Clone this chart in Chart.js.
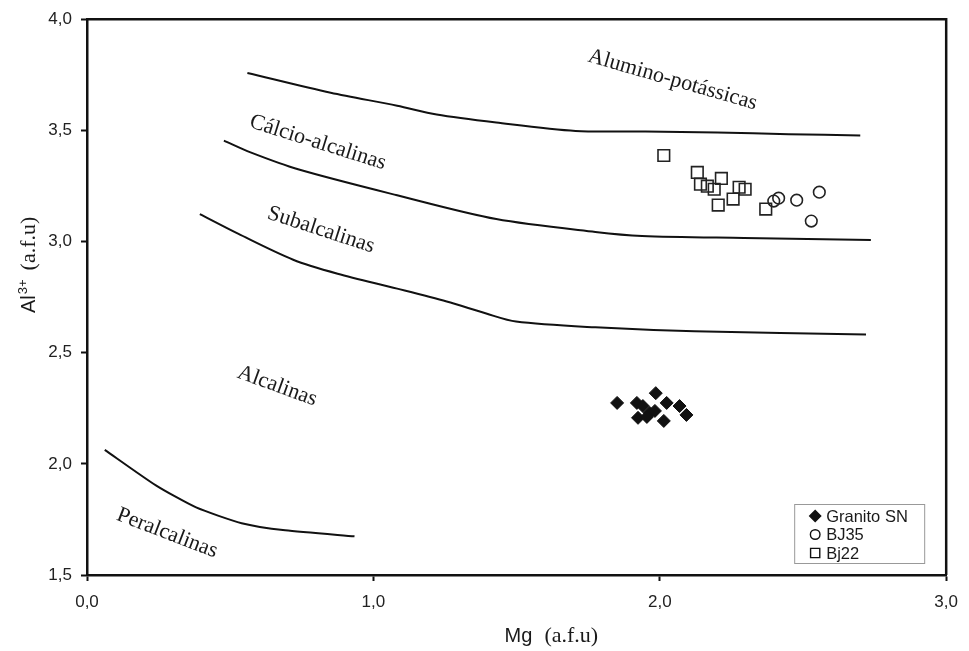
<!DOCTYPE html>
<html>
<head>
<meta charset="utf-8">
<script src="https://cdn.jsdelivr.net/npm/chart.js@4.4.1/dist/chart.umd.min.js"></script>
<style>
html,body{margin:0;padding:0;background:#fff;}
#wrap{width:969px;height:651px;position:relative;}
</style>
</head>
<body>
<div id="wrap"><canvas id="c" width="969" height="651"></canvas></div>
<script>
// ---- Boundary curves (Mg, Al) ----
const aluminoX = [0.56, 0.851, 1.083, 1.221, 1.429, 1.706, 1.95, 2.2, 2.45, 2.70];
const aluminoY = [3.758, 3.669, 3.611, 3.571, 3.535, 3.497, 3.495, 3.490, 3.483, 3.477];
const calcioX = [0.478, 0.571, 0.737, 1.083, 1.429, 1.775, 1.938, 2.294, 2.737];
const calcioY = [3.454, 3.401, 3.325, 3.208, 3.101, 3.043, 3.025, 3.016, 3.007];
const subalcX = [0.394, 0.529, 0.720, 0.875, 1.083, 1.256, 1.394, 1.498, 1.775, 2.121, 2.720];
const subalcY = [3.123, 3.034, 2.918, 2.855, 2.788, 2.730, 2.676, 2.640, 2.614, 2.596, 2.582];
const peralcX = [0.062, 0.242, 0.381, 0.540, 0.692, 0.934];
const peralcY = [2.063, 1.902, 1.804, 1.733, 1.701, 1.674];

// ---- Samples ----
const granitoMg = [1.851, 1.920, 1.941, 1.986, 2.024, 2.069, 2.093, 2.014, 1.924, 1.965, 1.955, 1.983];
const granitoAl = [2.274, 2.274, 2.260, 2.318, 2.274, 2.260, 2.220, 2.193, 2.207, 2.229, 2.211, 2.238];
const bj35Mg = [2.415, 2.398, 2.478, 2.557, 2.529];
const bj35Al = [3.195, 3.182, 3.186, 3.222, 3.092];
const bj22Mg = [2.014, 2.131, 2.142, 2.166, 2.190, 2.215, 2.204, 2.256, 2.277, 2.298, 2.370];
const bj22Al = [3.387, 3.311, 3.258, 3.249, 3.235, 3.284, 3.164, 3.191, 3.244, 3.235, 3.146];

// ---- Field labels ----
const fieldNames = ["Alumino-potássicas", "Cálcio-alcalinas", "Subalcalinas", "Alcalinas", "Peralcalinas"];
const fieldMg = [2.045, 0.806, 0.817, 0.664, 0.280];
const fieldAl = [3.727, 3.445, 3.052, 2.350, 1.688];
const fieldAngle = [16, 17.5, 18, 20, 21];

// ---- Axes ----
const xTicks = [0, 1, 2, 3];
const yTicks = [1.5, 2.0, 2.5, 3.0, 3.5, 4.0];
const legendNames = ["Granito SN", "BJ35", "Bj22"];

const pts = (xs, ys) => xs.map((x, i) => ({x: x, y: ys[i]}));
const fmt = v => Number(v).toFixed(1).replace('.', ',');

const lineDs = (xs, ys) => ({
  data: pts(xs, ys), showLine: true, pointRadius: 0, borderColor: '#111',
  borderWidth: 2, tension: 0.3, fill: false
});

const framePlugin = {
  id: 'frame',
  afterDraw(chart) {
    const ctx = chart.ctx, a = chart.chartArea, xs = chart.scales.x, ys = chart.scales.y;
    ctx.save();
    // frame top & right
    ctx.strokeStyle = '#111'; ctx.lineWidth = 2.5;
    ctx.beginPath();
    ctx.moveTo(a.left, a.top); ctx.lineTo(a.right, a.top); ctx.lineTo(a.right, a.bottom);
    ctx.stroke();
    // field labels
    ctx.fillStyle = '#1a1a1a';
    ctx.font = '22px "Liberation Serif", "Times New Roman", serif';
    ctx.textAlign = 'center'; ctx.textBaseline = 'middle';
    fieldNames.forEach((n, i) => {
      ctx.save();
      ctx.translate(xs.getPixelForValue(fieldMg[i]), ys.getPixelForValue(fieldAl[i]));
      ctx.rotate(fieldAngle[i] * Math.PI / 180);
      ctx.fillText(n, 0, 0);
      ctx.restore();
    });
    // x title
    ctx.textAlign = 'left'; ctx.textBaseline = 'alphabetic';
    const cx = (a.left + a.right) / 2;
    ctx.font = '20px "Liberation Sans", Arial, sans-serif';
    const mgW = ctx.measureText('Mg').width;
    ctx.fillText('Mg', cx - 12, a.bottom + 67);
    ctx.font = '22px "Liberation Serif", "Times New Roman", serif';
    ctx.fillText('(a.f.u)', cx - 12 + mgW + 12, a.bottom + 67);
    // y title
    ctx.save();
    ctx.translate(35, 313);
    ctx.rotate(-Math.PI / 2);
    ctx.font = '20px "Liberation Sans", Arial, sans-serif';
    ctx.fillText('Al', 0, 0);
    const alW = ctx.measureText('Al').width;
    ctx.font = '13px "Liberation Sans", Arial, sans-serif';
    ctx.fillText('3+', alW + 1, -8);
    const supW = ctx.measureText('3+').width;
    ctx.font = '22px "Liberation Serif", "Times New Roman", serif';
    ctx.fillText('(a.f.u)', alW + supW + 10, 0);
    ctx.restore();
    // legend
    const lx = a.right - 152, ly = a.bottom - 71, lw = 130, lh = 59;
    ctx.strokeStyle = '#999'; ctx.lineWidth = 1;
    ctx.strokeRect(lx + 0.5, ly + 0.5, lw, lh);
    ctx.font = '16.5px "Liberation Sans", Arial, sans-serif';
    ctx.textBaseline = 'middle';
    const styles = ['rectRot', 'circle', 'rect'];
    const fills = ['#111', '#fff', '#fff'];
    const radii = [5.5, 4.8, 6.5];
    legendNames.forEach((n, i) => {
      const yy = ly + 12 + i * 18.5;
      ctx.fillStyle = fills[i]; ctx.strokeStyle = '#111'; ctx.lineWidth = 1.4;
      Chart.helpers.drawPoint(ctx, {pointStyle: styles[i], radius: radii[i], borderWidth: 1.4}, lx + 21, yy);
      ctx.fillStyle = '#1a1a1a';
      ctx.fillText(n, lx + 32, yy + 1);
    });
    ctx.restore();
  }
};

new Chart(document.getElementById('c'), {
  type: 'scatter',
  data: {
    datasets: [
      lineDs(aluminoX, aluminoY),
      lineDs(calcioX, calcioY),
      lineDs(subalcX, subalcY),
      Object.assign(lineDs(peralcX, peralcY), {tension: 0.2}),
      {label: legendNames[0], data: pts(granitoMg, granitoAl), pointStyle: 'rectRot', pointRadius: 6.5,
        backgroundColor: '#111', borderColor: '#111', borderWidth: 1},
      {label: legendNames[1], data: pts(bj35Mg, bj35Al), pointStyle: 'circle', pointRadius: 5.8,
        backgroundColor: 'rgba(255,255,255,0)', borderColor: '#222', borderWidth: 1.6},
      {label: legendNames[2], data: pts(bj22Mg, bj22Al), pointStyle: 'rect', pointRadius: 8.2,
        backgroundColor: 'rgba(255,255,255,0)', borderColor: '#222', borderWidth: 1.6}
    ]
  },
  options: {
    responsive: false, animation: false,
    layout: {padding: {left: 0, top: 16, right: 15, bottom: 0}},
    plugins: {legend: {display: false}, tooltip: {enabled: false}},
    scales: {
      x: {
        type: 'linear', min: 0, max: 3,
        afterFit(s) { s.height = 76; },
        afterBuildTicks(s) { s.ticks = xTicks.map(v => ({value: v})); },
        ticks: {callback: fmt, color: '#222', padding: 11, maxRotation: 0,
          font: {family: '"Liberation Sans", Arial, sans-serif', size: 17}},
        grid: {drawOnChartArea: false, drawTicks: true, tickLength: 6, color: '#111', tickWidth: 2},
        border: {display: true, color: '#111', width: 2.5}
      },
      y: {
        type: 'linear', min: 1.5, max: 4,
        afterFit(s) { s.width = 87; },
        afterBuildTicks(s) { s.ticks = yTicks.map(v => ({value: v})); },
        ticks: {callback: fmt, color: '#222', padding: 9,
          font: {family: '"Liberation Sans", Arial, sans-serif', size: 17}},
        grid: {drawOnChartArea: false, drawTicks: true, tickLength: 6, color: '#111', tickWidth: 2},
        border: {display: true, color: '#111', width: 2.5}
      }
    }
  },
  plugins: [framePlugin]
});
</script>
</body>
</html>
